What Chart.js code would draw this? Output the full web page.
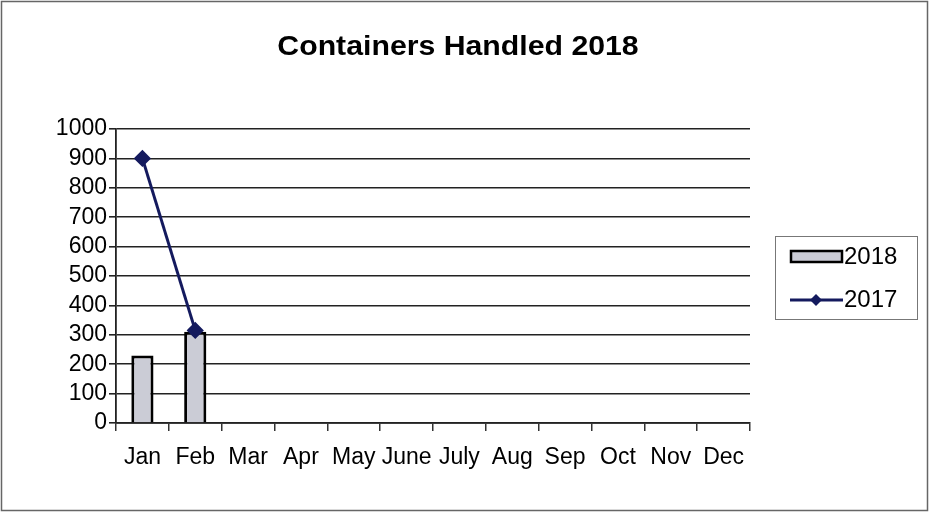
<!DOCTYPE html>
<html>
<head>
<meta charset="utf-8">
<script src="https://cdn.jsdelivr.net/npm/chart.js@4/dist/chart.umd.min.js"></script>
<style>
html,body{margin:0;padding:0;background:#fff;}
#wrap{width:930px;height:513px;position:relative;}
</style>
</head>
<body>
<div id="wrap"><canvas id="c" width="930" height="513"></canvas></div>
<script>
const chartTitle = 'Containers Handled 2018';
const months = ['Jan','Feb','Mar','Apr','May','June','July','Aug','Sep','Oct','Nov','Dec'];
const values2018 = [230, 310, null, null, null, null, null, null, null, null, null, null];
const values2017 = [900, 315, null, null, null, null, null, null, null, null, null, null];
const yTicks = [0,100,200,300,400,500,600,700,800,900,1000];

const FONT = "'Liberation Sans', Arial, sans-serif";
const NAVY = '#141a5e';
const BARFILL = '#cbccd6';

const decor = {
  id: 'decor',
  afterDraw(chart) {
    const ctx = chart.ctx;
    ctx.save();
    // outer frame
    ctx.strokeStyle = '#666';
    ctx.lineWidth = 1.5;
    ctx.strokeRect(1.5, 1.5, 926, 509);
    // title
    ctx.fillStyle = '#000';
    ctx.font = 'bold 28px ' + FONT;
    ctx.textAlign = 'center';
    ctx.textBaseline = 'middle';
    ctx.save();
    ctx.translate(458, 47);
    ctx.scale(1.08, 1);
    ctx.fillText(chartTitle, 0, 0);
    ctx.restore();
    // legend box
    ctx.strokeStyle = '#777';
    ctx.lineWidth = 1;
    ctx.strokeRect(775.5, 236.5, 142, 83);
    const ds = chart.data.datasets;
    ctx.font = '24px ' + FONT;
    ctx.textAlign = 'left';
    // bar entry
    ctx.fillStyle = BARFILL;
    ctx.fillRect(791, 251, 51, 11);
    ctx.strokeStyle = '#000';
    ctx.lineWidth = 2.5;
    ctx.strokeRect(791, 251, 51, 11);
    ctx.fillStyle = '#000';
    ctx.fillText(ds[1].label, 844, 257);
    // line entry
    ctx.strokeStyle = NAVY;
    ctx.lineWidth = 3;
    ctx.beginPath();
    ctx.moveTo(790, 300);
    ctx.lineTo(843, 300);
    ctx.stroke();
    ctx.fillStyle = NAVY;
    ctx.beginPath();
    ctx.moveTo(816, 294);
    ctx.lineTo(822, 300);
    ctx.lineTo(816, 306);
    ctx.lineTo(810, 300);
    ctx.closePath();
    ctx.fill();
    ctx.fillStyle = '#000';
    ctx.fillText(ds[0].label, 844, 300);
    ctx.restore();
  }
};

Chart.defaults.font.family = FONT;
Chart.defaults.color = '#000';

new Chart(document.getElementById('c'), {
  data: {
    labels: months,
    datasets: [
      {
        type: 'line',
        label: '2017',
        data: values2017,
        borderColor: NAVY,
        backgroundColor: NAVY,
        borderWidth: 3,
        pointStyle: 'rectRot',
        pointRadius: 6.5,
        pointBackgroundColor: NAVY,
        pointBorderColor: NAVY,
        spanGaps: false,
        order: 0
      },
      {
        type: 'bar',
        label: '2018',
        data: values2018,
        backgroundColor: BARFILL,
        borderColor: '#000',
        borderWidth: 3,
        categoryPercentage: 1.0,
        barPercentage: 0.42,
        order: 1
      }
    ]
  },
  options: {
    responsive: false,
    animation: false,
    layout: { padding: { top: 129, right: 180, bottom: 0, left: 0 } },
    plugins: {
      legend: { display: false },
      title: { display: false },
      tooltip: { enabled: false }
    },
    scales: {
      x: {
        offset: true,
        grid: { display: true, drawOnChartArea: false, drawTicks: true, tickLength: 8, offset: true, color: '#333', lineWidth: 1.5 },
        border: { display: true, color: '#222', width: 1.8 },
        ticks: { font: { size: 23 }, color: '#000', autoSkip: false, maxRotation: 0, minRotation: 0, padding: 13 },
        afterFit(scale) { scale.height = 90; }
      },
      y: {
        min: 0,
        max: 1000,
        afterBuildTicks(scale) { scale.ticks = yTicks.map(v => ({ value: v })); },
        grid: { display: true, drawTicks: true, tickLength: 7, color: '#222', lineWidth: 1.6 },
        border: { display: true, color: '#222', width: 1.8 },
        ticks: { font: { size: 23 }, color: '#000', padding: 2, autoSkip: false, stepSize: 100, callback: (v) => String(v) },
        afterFit(scale) { scale.width = 116; }
      }
    }
  },
  plugins: [decor]
});
</script>
</body>
</html>
